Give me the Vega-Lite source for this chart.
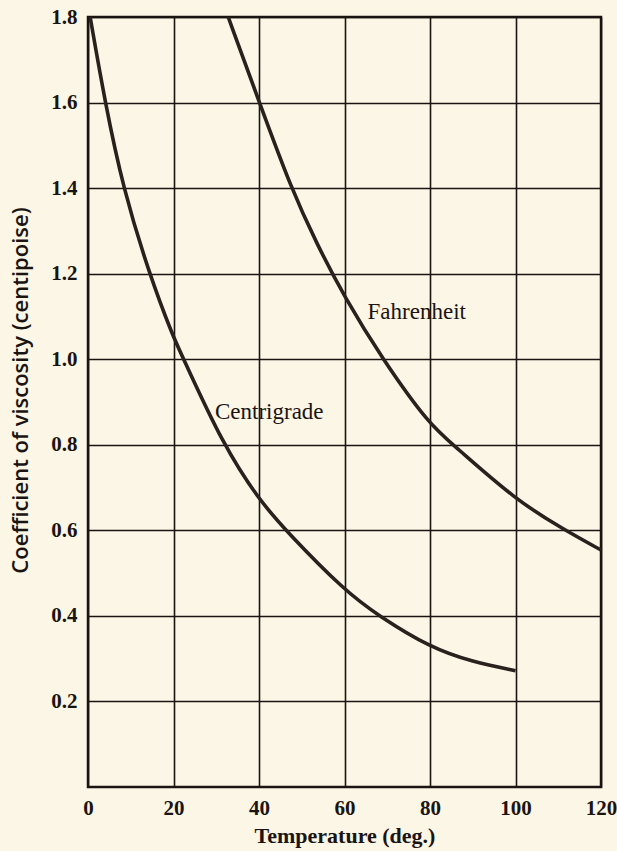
{
  "$schema": "https://vega.github.io/schema/vega-lite/v6.json",
  "width": 513,
  "height": 770,
  "autosize": {"type": "none"},
  "padding": {"left": 88, "top": 17, "right": 16, "bottom": 64},
  "background": "#fbf6e6",
  "config": {
    "view": {"stroke": "#1a1412", "strokeWidth": 2.5},
    "font": "Liberation Serif"
  },
  "datasets": {
    "curves": [
      {"scale": "Centigrade", "temp": 0.5, "viscosity": 1.8},
      {"scale": "Centigrade", "temp": 4, "viscosity": 1.6},
      {"scale": "Centigrade", "temp": 8.2, "viscosity": 1.4},
      {"scale": "Centigrade", "temp": 14.3, "viscosity": 1.2},
      {"scale": "Centigrade", "temp": 20, "viscosity": 1.05},
      {"scale": "Centigrade", "temp": 22.4, "viscosity": 1.0},
      {"scale": "Centigrade", "temp": 31.6, "viscosity": 0.8},
      {"scale": "Centigrade", "temp": 40, "viscosity": 0.671},
      {"scale": "Centigrade", "temp": 46.5, "viscosity": 0.597},
      {"scale": "Centigrade", "temp": 60, "viscosity": 0.459},
      {"scale": "Centigrade", "temp": 68, "viscosity": 0.4},
      {"scale": "Centigrade", "temp": 80, "viscosity": 0.326},
      {"scale": "Centigrade", "temp": 90, "viscosity": 0.292},
      {"scale": "Centigrade", "temp": 100, "viscosity": 0.272},
      {"scale": "Fahrenheit", "temp": 32.8, "viscosity": 1.8},
      {"scale": "Fahrenheit", "temp": 40.1, "viscosity": 1.6},
      {"scale": "Fahrenheit", "temp": 47.5, "viscosity": 1.4},
      {"scale": "Fahrenheit", "temp": 53.5, "viscosity": 1.27},
      {"scale": "Fahrenheit", "temp": 60, "viscosity": 1.145},
      {"scale": "Fahrenheit", "temp": 68.9, "viscosity": 1.0},
      {"scale": "Fahrenheit", "temp": 80, "viscosity": 0.845},
      {"scale": "Fahrenheit", "temp": 85.5, "viscosity": 0.8},
      {"scale": "Fahrenheit", "temp": 100, "viscosity": 0.671},
      {"scale": "Fahrenheit", "temp": 111.6, "viscosity": 0.6},
      {"scale": "Fahrenheit", "temp": 120, "viscosity": 0.554}
    ],
    "labels": [
      {"label": "Fahrenheit", "temp": 76.9, "viscosity": 1.11},
      {"label": "Centrigrade", "temp": 42.4, "viscosity": 0.877}
    ]
  },
  "encoding": {
    "x": {
      "field": "temp", "type": "quantitative",
      "scale": {"domain": [0, 120], "nice": false, "zero": false},
      "axis": {
        "title": "Temperature (deg.)",
        "values": [0, 20, 40, 60, 80, 100, 120],
        "grid": true, "gridColor": "#1a1412", "gridWidth": 1.6, "gridOpacity": 1,
        "domain": false, "ticks": false,
        "labelFont": "Liberation Serif", "labelFontSize": 21, "labelFontWeight": "bold",
        "labelColor": "#1a1412", "labelPadding": 10, "labelDx": -4,
        "labelFlush": false,
        "titleFont": "Liberation Serif", "titleFontSize": 22, "titleFontWeight": "bold",
        "titleColor": "#1a1412", "titlePadding": 7
      }
    },
    "y": {
      "field": "viscosity", "type": "quantitative",
      "scale": {"domain": [0, 1.8], "nice": false, "zero": true},
      "axis": {
        "title": "Coefficient of viscosity (centipoise)",
        "values": [0.2, 0.4, 0.6, 0.8, 1.0, 1.2, 1.4, 1.6, 1.8],
        "format": ".1f",
        "grid": true, "gridColor": "#1a1412", "gridWidth": 1.6, "gridOpacity": 1,
        "domain": false, "ticks": false,
        "labelFont": "Liberation Serif", "labelFontSize": 21, "labelFontWeight": "bold",
        "labelColor": "#1a1412", "labelPadding": 11,
        "labelFlush": false,
        "titleFont": "Open Sans", "titleFontSize": 22, "titleFontWeight": 600,
        "titleColor": "#1a1412", "titleX": -68, "titleY": 373,
        "titleAngle": -90, "titleAlign": "center", "titleBaseline": "middle"
      }
    }
  },
  "layer": [
    {
      "data": {"name": "curves"},
      "mark": {"type": "line", "interpolate": "basis", "color": "#2a201d", "strokeWidth": 3.6, "clip": true},
      "encoding": {"detail": {"field": "scale"}}
    },
    {
      "data": {"name": "labels"},
      "mark": {"type": "text", "font": "Liberation Serif", "fontSize": 23, "fontWeight": "normal", "color": "#1a1412", "align": "center", "baseline": "middle"},
      "encoding": {"text": {"field": "label"}}
    }
  ]
}
